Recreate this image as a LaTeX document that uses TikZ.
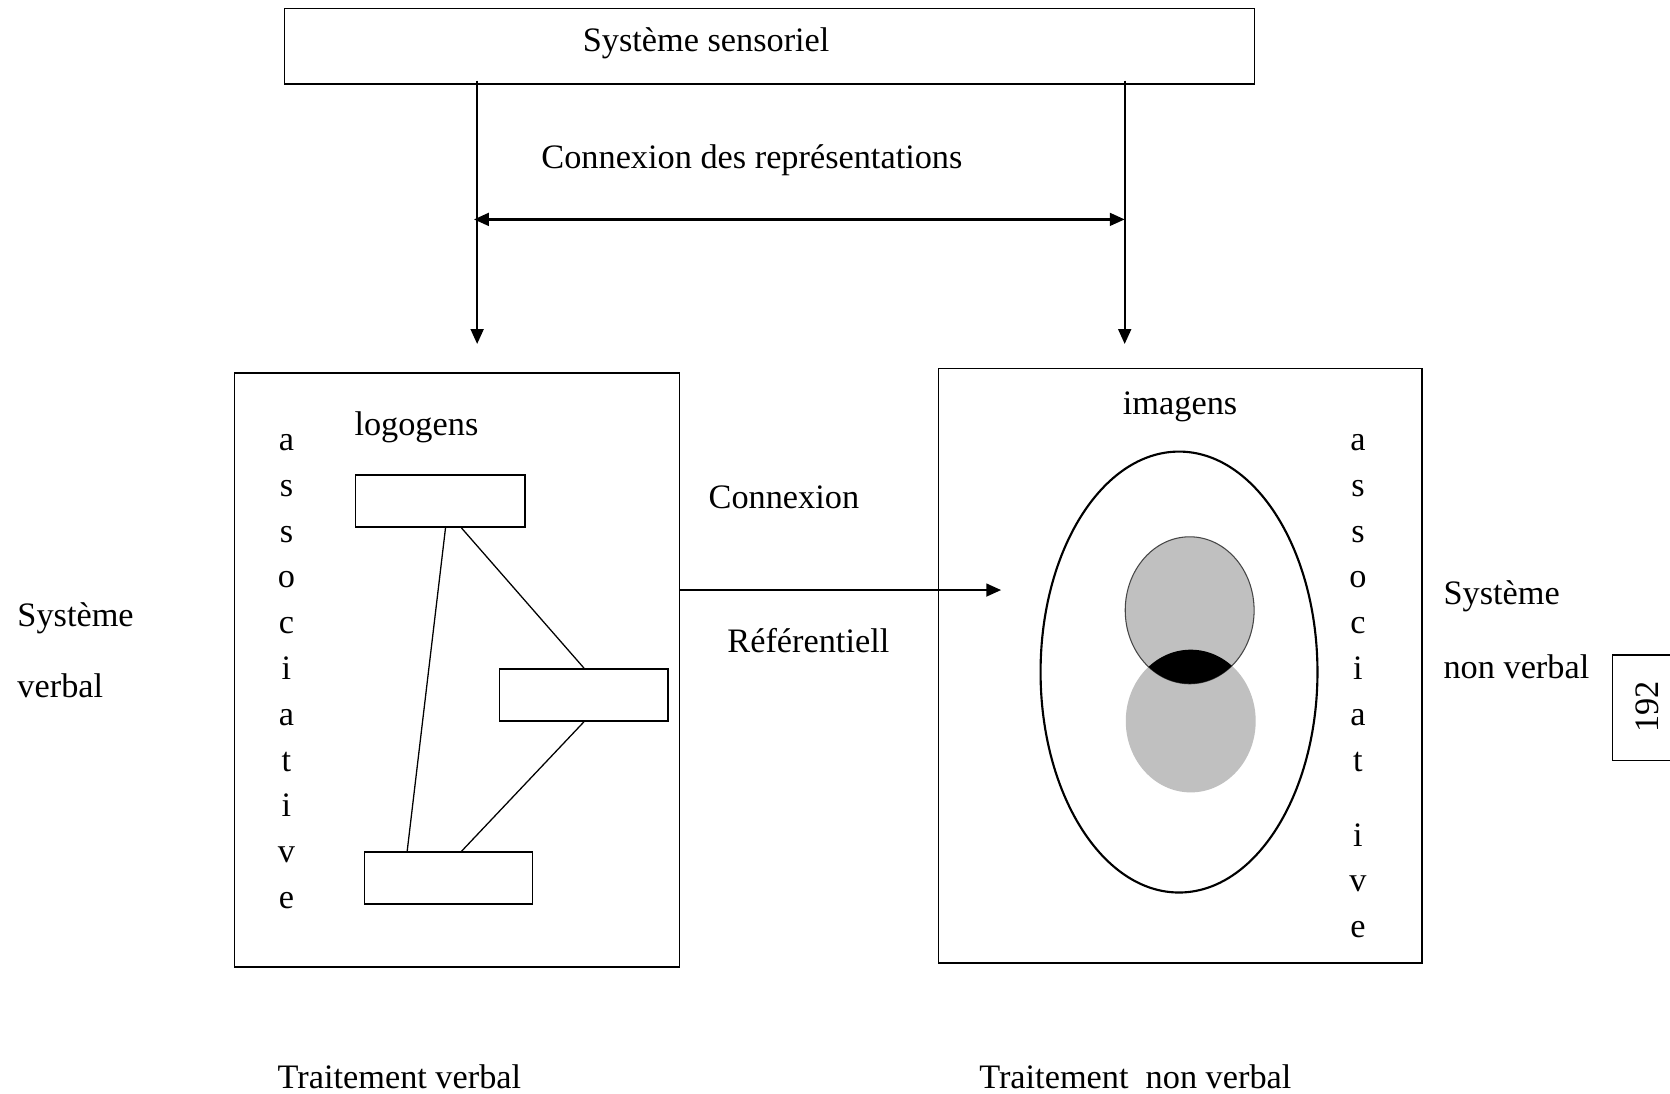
\documentclass[tikz,border=0pt]{standalone}
\usepackage{fontspec}
\setmainfont{Liberation Serif}
\usetikzlibrary{arrows.meta,shapes.geometric,fit,calc}
\begin{document}
\begin{tikzpicture}[x=0.5pt,y=-0.5pt,
  every node/.style={font=\fontsize{16.1}{19}\selectfont},
  boxline/.style={draw, line width=0.7pt, inner sep=0pt},
  txt/.style={inner sep=0pt, anchor=base},
  lefttxt/.style={inner sep=0pt, anchor=base west},
  link/.style={line width=0.6pt},
  arr/.style={line width=1.1pt, -{Triangle[length=7pt,width=6pt]}},
  biarr/.style={line width=1.1pt, {Triangle[length=7pt,width=6pt]}-{Triangle[length=7pt,width=6pt]}},
  blob/.style={ellipse, inner sep=0pt},
]
\definecolor{blobgray}{RGB}{192,192,192}
\definecolor{rimgray}{RGB}{70,70,70}

% page
\fill[white] (0,0) rectangle (1568,1027);
\useasboundingbox (0,0) rectangle (1568,1027);

% sensory system
\node[boxline, fit={(267,8) (1178,79)}] (sens) {};
\node[txt] (senstxt) at (663,48) {Système sensoriel};

% links down to both systems
\coordinate (dL) at (448,323);
\coordinate (dR) at (1056,323);
\draw[arr] ($(dL |- sens.south)+(0,-4)$) -- (dL);
\draw[arr] ($(dR |- sens.south)+(0,-4)$) -- (dR);

\node[txt] (conrep) at (706,158) {Connexion des représentations};
\coordinate (hL) at (445,206);
\coordinate (hR) at (1056,206);
\draw[biarr] (hL) -- (hR);

% verbal system
\node[boxline, fit={(220,350) (638,908)}] (lbox) {};
\node[txt] (logo) at (391,409) {logogens};
\node[boxline, fit={(334,446) (493,495)}] (r1) {};
\node[boxline, fit={(469,628) (627,677)}] (r2) {};
\node[boxline, fit={(342,800) (500,849)}] (r3) {};
\draw[link] ($(r1.south west)+(85,0)$) -- ($(r3.north west)+(41,0)$);
\draw[link] ($(r1.south west)+(100,0)$) -- ($(r2.north west)+(80,0)$);
\draw[link] ($(r2.south west)+(80,0)$) -- ($(r3.north west)+(92,0)$);
\foreach \ch [count=\k from 0] in {a,s,s,o,c,i,a,t,i,v,e}
  \node[txt] (la\k) at (269,{423+43*\k}) {\ch};

% referential connection
\coordinate (refEnd) at (940,554);
\draw[arr] (refEnd -| lbox.east) -- (refEnd);
\node[txt] (con) at (736,477) {Connexion};
\node[txt] (refl) at (759,613) {Référentiell};

% non-verbal system
\node[boxline, fit={(881,346) (1335,904)}] (rbox) {};
\node[txt] (imag) at (1108,389) {imagens};
\node[draw, line width=1pt, ellipse, inner sep=0pt,
      minimum width=130pt, minimum height=207pt] (oval) at (1107,631) {};
\node[blob, fill=blobgray, minimum width=61pt, minimum height=67pt] (lowc) at (1118,677) {};
\node[blob, fill=blobgray, draw=rimgray, line width=0.5pt,
      minimum width=60.5pt, minimum height=69pt] (upc) at (1117,573) {};
\begin{scope}
  \clip (1118,677) ellipse [x radius=30.5pt, y radius=33.5pt];
  \fill[black] (1117,573) ellipse [x radius=30.25pt, y radius=34.5pt];
\end{scope}
\foreach \ch [count=\k from 0] in {a,s,s,o,c,i,a,t}
  \node[txt] (ra\k) at (1275,{423+43*\k}) {\ch};
\node[txt] (ra8) at (1275,795) {i};
\node[txt] (ra9) at (1275,837) {v};
\node[txt] (ra10) at (1275,880) {e};

% side captions
\node[lefttxt] (sysv) at (16,588) {Système};
\node[lefttxt] (verb) at (16,655) {verbal};
\node[lefttxt] (sysnv) at (1355,568) {Système};
\node[lefttxt] (nverb) at (1355,637) {non verbal};

% bottom captions
\node[txt] (tv) at (375,1022) {Traitement verbal};
\node[txt] (tnv) at (1066,1022) {Traitement\ \ non verbal};

% page number
\draw[line width=0.7pt] (1568,615) -- (1514,615) -- (1514,714) -- (1568,714);
\node[inner sep=0pt, rotate=90] (pnum) at (1547,664) {192};
\end{tikzpicture}
\end{document}
